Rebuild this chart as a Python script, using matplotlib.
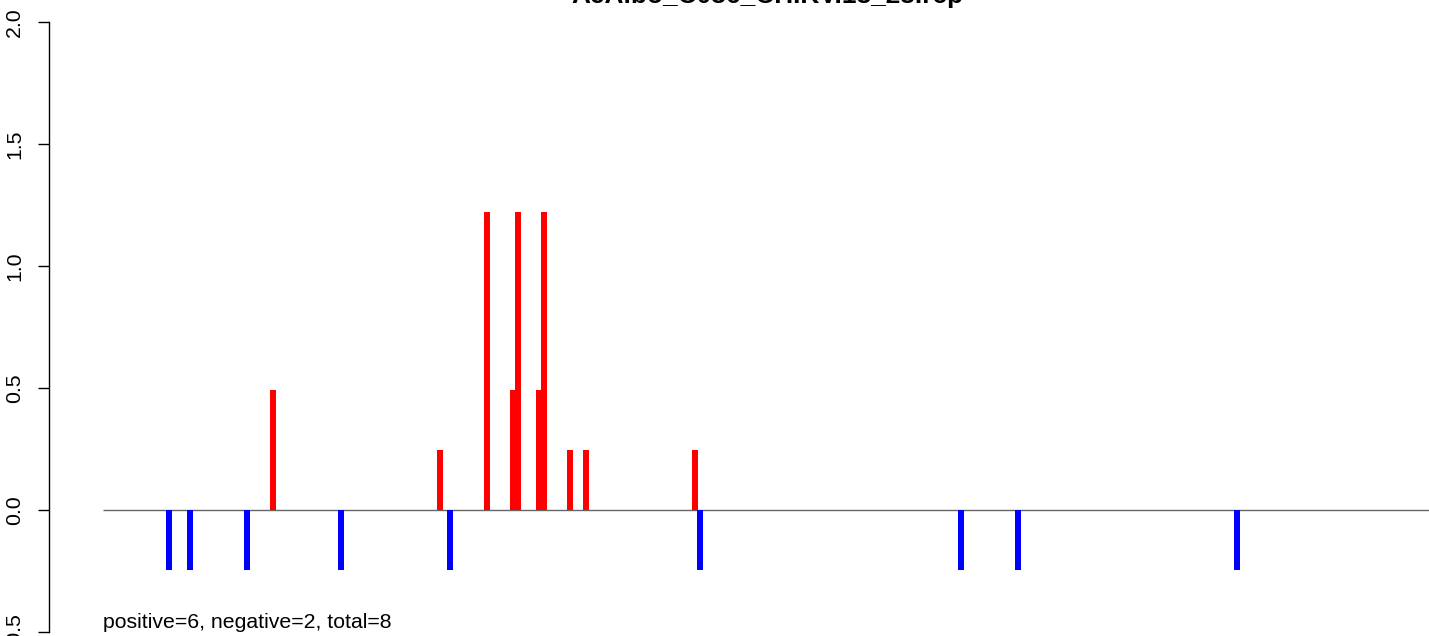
import numpy as np
import matplotlib
matplotlib.use("Agg")
import matplotlib.pyplot as plt

plt.rcParams['font.family'] = ['Liberation Sans', 'DejaVu Sans']

# read positions (nt) and heights off the picture
pos_plus = [1530, 3033, 3456, 3686, 3735, 3920, 3969, 4203, 4347, 5328]
val_plus = [0.49, 0.245, 1.22, 0.49, 1.22, 0.49, 1.22, 0.245, 0.245, 0.245]
pos_minus = [594, 783, 1296, 2142, 3123, 5373, 7722, 8235, 10206]
val_minus = [-0.245] * 9
seq_len = 12400
title = "AeAlbo_C036_CHIKV.18_23.rcp"
note = "positive=6, negative=2, total=8"

W, H = 1429, 636
fig = plt.figure(figsize=(W / 100, H / 100), dpi=100)
# plot region runs past the right edge of the picture (cropped R output)
ax = fig.add_axes([49 / W, 4 / H, (1485 - 49) / W, (632 - 22) / H])

bw = 54
ax.hlines(0, 0, seq_len, color='#666666', lw=1.0, zorder=1)
ax.bar(pos_plus, val_plus, width=bw, color='#FF0000', linewidth=0, zorder=2)
ax.bar(pos_minus, val_minus, width=bw, color='#0000FF', linewidth=0, zorder=2)

ax.set_xlim(-486, 12438)
ax.set_ylim(-0.5, 2.0)
ax.set_yticks([-0.5, 0.0, 0.5, 1.0, 1.5, 2.0])
ax.set_yticklabels(['-0.5', '0.0', '0.5', '1.0', '1.5', '2.0'],
                   rotation=90, va='center', fontsize=15.3)
ax.tick_params(axis='y', length=8, width=1, pad=10)
ax.set_xticks([])
for s in ['top', 'right', 'bottom']:
    ax.spines[s].set_visible(False)
ax.spines['left'].set_linewidth(1)

ax.text(0, -0.463, note, fontsize=15.3, ha='left', va='center')
ax.set_title(title, fontsize=18.9, fontweight='bold', pad=13.5)

fig.savefig("out.png", dpi=100)
